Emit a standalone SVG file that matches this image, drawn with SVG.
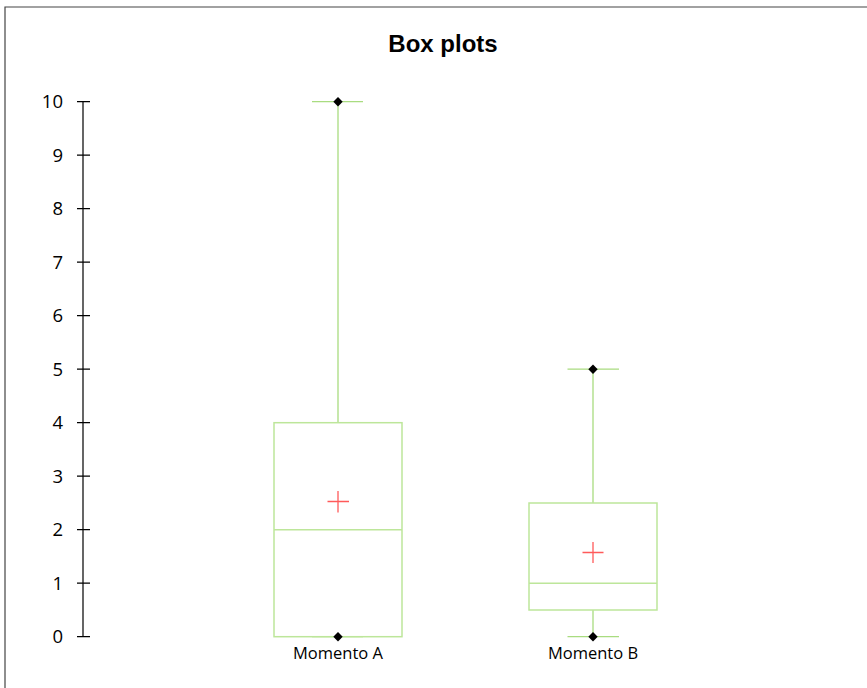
<svg xmlns="http://www.w3.org/2000/svg" width="867" height="688" viewBox="0 0 867 688">
<style>
.frame{fill:none;stroke:#444;stroke-width:1.2}
.axis{stroke:#000;stroke-width:1.2;fill:none}
.tick{font-family:"Open Sans","Liberation Sans",Arial,sans-serif;font-size:18.5px;fill:#000;text-anchor:end}
.title{font-family:"Liberation Sans",Arial,sans-serif;font-size:24px;font-weight:bold;fill:#000;text-anchor:middle}
.cat{font-family:"Open Sans","Liberation Sans",Arial,sans-serif;font-size:16.5px;fill:#000;text-anchor:middle}
.box{fill:none;stroke:#bde69a;stroke-width:1.5}
.wh{fill:none;stroke:#a9dc80;stroke-width:1.3}
.mean{stroke:#ff5a5a;stroke-width:1.3}
.pt{fill:#000}
</style>
<rect width="867" height="688" fill="#fff"/>
<path class="frame" d="M5,688 V7 H867"/>
<text class="title" x="443" y="52">Box plots</text>
<g id="axis">
<path class="axis" d="M83,101.7 V636.7 M77,101.7 H90 M77,155.2 H90 M77,208.7 H90 M77,262.2 H90 M77,315.7 H90 M77,369.2 H90 M77,422.7 H90 M77,476.2 H90 M77,529.7 H90 M77,583.2 H90 M77,636.7 H90"/>
<text class="tick" x="63" y="108.3">10</text>
<text class="tick" x="63" y="161.8">9</text>
<text class="tick" x="63" y="215.3">8</text>
<text class="tick" x="63" y="268.8">7</text>
<text class="tick" x="63" y="322.3">6</text>
<text class="tick" x="63" y="375.8">5</text>
<text class="tick" x="63" y="429.3">4</text>
<text class="tick" x="63" y="482.8">3</text>
<text class="tick" x="63" y="536.3">2</text>
<text class="tick" x="63" y="589.8">1</text>
<text class="tick" x="63" y="643.3">0</text>
</g>
<g id="momentoA">
<path class="wh" d="M338,101.7 V422.7 M312,101.7 H363 M312,636.7 H363"/>
<rect class="box" x="274" y="422.7" width="128" height="214"/>
<line class="box" x1="274" y1="529.7" x2="402" y2="529.7"/>
<path class="mean" d="M327.5,501.5 H349 M338,491 V512.5"/>
<path class="pt" d="M338,97 L342.7,101.7 L338,106.4 L333.3,101.7 Z"/>
<path class="pt" d="M338,632 L342.7,636.7 L338,641.4 L333.3,636.7 Z"/>
<text class="cat" x="338" y="658.5">Momento A</text>
</g>
<g id="momentoB">
<path class="wh" d="M593,369.2 V503 M593,610 V636.7 M567.5,369.2 H619 M567.5,636.7 H619"/>
<rect class="box" x="529" y="503" width="128" height="107"/>
<line class="box" x1="529" y1="583.2" x2="657" y2="583.2"/>
<path class="mean" d="M582.5,552.5 H603.5 M593,542 V563"/>
<path class="pt" d="M593,364.5 L597.7,369.2 L593,373.9 L588.3,369.2 Z"/>
<path class="pt" d="M593,632 L597.7,636.7 L593,641.4 L588.3,636.7 Z"/>
<text class="cat" x="593" y="658.5">Momento B</text>
</g>
</svg>
